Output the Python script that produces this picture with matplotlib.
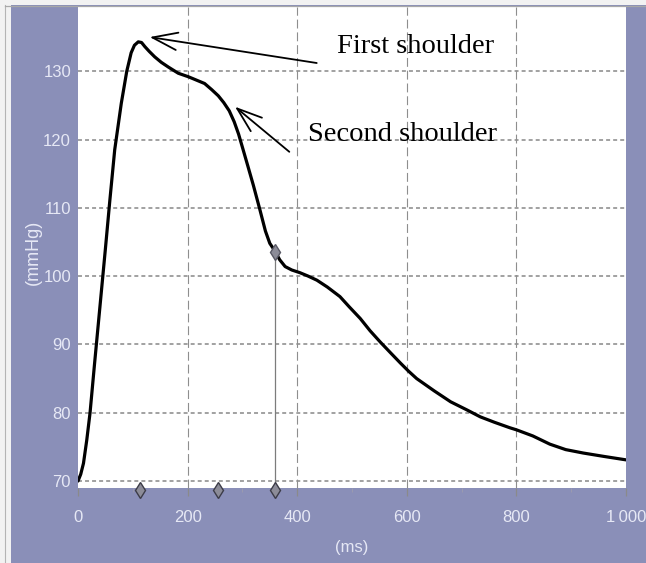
import matplotlib
matplotlib.use('Agg')
import matplotlib.pyplot as plt
from matplotlib.patches import Rectangle
from matplotlib.lines import Line2D
import matplotlib.transforms as mtransforms

# pressure pulse
t_ms = [0, 5, 10, 16, 22, 30, 40, 50, 58, 67, 79, 89, 97, 103, 110, 116,
        122, 130, 140, 152, 165, 183, 201, 216, 231, 244, 256, 266, 276,
        285, 293, 301, 310, 320, 332, 342, 350, 360, 368, 378, 390, 405,
        420, 436, 455, 478, 495, 515, 533, 551, 570, 588, 603, 618, 650,
        680, 710, 734, 760, 788, 800, 830, 861, 890, 922, 960, 1000]
p_mmhg = [70.0, 71.0, 72.6, 76.0, 80.0, 87.0, 95.5, 104.0, 111.0, 118.5,
          125.3, 130.0, 132.7, 133.8, 134.3, 134.2, 133.6, 132.9, 132.1,
          131.3, 130.6, 129.7, 129.2, 128.7, 128.2, 127.3, 126.4, 125.4,
          124.2, 122.6, 120.8, 118.6, 116.1, 113.3, 109.7, 106.6, 104.8,
          103.6, 102.4, 101.4, 100.9, 100.5, 100.0, 99.4, 98.4, 97.0, 95.5,
          93.8, 92.0, 90.4, 88.8, 87.3, 86.1, 85.0, 83.2, 81.6, 80.4, 79.4,
          78.6, 77.8, 77.5, 76.6, 75.4, 74.6, 74.1, 73.6, 73.1]

marker_ms = [113, 255, 360]
cursor_ms, cursor_p = 360, 103.6

x_ticks = [0, 200, 400, 600, 800, 1000]
x_labels = ['0', '200', '400', '600', '800', '1\u2009000']
y_ticks = [70, 80, 90, 100, 110, 120, 130]

bg = '#8a8fb8'
label_col = '#e6e8f5'
tick_font = ['Liberation Sans', 'DejaVu Sans']

fig = plt.figure(figsize=(6.46, 5.63), dpi=100, facecolor=bg)

# light window border on the left and top
fig.patches.append(Rectangle((0, 0), 11 / 646, 1, transform=fig.transFigure,
                             facecolor='#f2f2f2', edgecolor='none', zorder=0))
fig.patches.append(Rectangle((0, 1 - 5 / 563), 1, 5 / 563, transform=fig.transFigure,
                             facecolor='#f2f2f2', edgecolor='none', zorder=0))
fig.lines.append(Line2D([4.5 / 646, 4.5 / 646], [0, 1 - 5 / 563], transform=fig.transFigure,
                        color='#b4b4b4', lw=0.8))
fig.lines.append(Line2D([4.5 / 646, 1], [1 - 5.5 / 563, 1 - 5.5 / 563], transform=fig.transFigure,
                        color='#a8a8a8', lw=0.9))

ax = fig.add_axes([78 / 646, 1 - 488 / 563, 548 / 646, 481 / 563])
ax.set_facecolor('white')
for s in ax.spines.values():
    s.set_visible(False)

ax.set_xlim(0, 1000)
ax.set_ylim(68.98, 139.4)

# grid
for y in y_ticks:
    ax.axhline(y, color='#9a9a9a', lw=1.3, linestyle=(0, (2.2, 1.7)), zorder=1)
for x in x_ticks[1:-1]:
    ax.axvline(x, color='#8e8e8e', lw=0.8, linestyle=(0, (8, 3.5)), zorder=1)

ax.set_xticks(x_ticks)
ax.set_xticklabels(x_labels)
ax.set_xticks([100, 300, 500, 700, 900], minor=True)
ax.set_yticks(y_ticks)
ax.tick_params(axis='x', which='major', length=6, width=0.9, color='#8a8a8a',
               pad=10, labelsize=12, labelcolor=label_col)
ax.tick_params(axis='x', which='minor', length=3, width=0.8, color='#9a9ab0')
ax.tick_params(axis='y', length=0, pad=5, labelsize=12, labelcolor=label_col)
for lab in ax.get_xticklabels() + ax.get_yticklabels():
    lab.set_family(tick_font)

ax.set_xlabel('(ms)', fontsize=12, color=label_col, family=tick_font)
ax.xaxis.label.set_va('center')
ax.xaxis.set_label_coords(0.5, -0.123)
ax.set_ylabel('(mmHg)', fontsize=13, color=label_col, family=tick_font)
ax.yaxis.label.set_va('center')
ax.yaxis.set_label_coords(-0.082, 0.49)

# curve
ax.plot(t_ms, p_mmhg, color='black', lw=2.3, zorder=4,
        solid_capstyle='round', solid_joinstyle='round')

# cursor line and markers
ax.plot([cursor_ms, cursor_ms], [68.98, cursor_p], color='#7c7c7c', lw=0.9, zorder=3)
ax.plot([cursor_ms], [cursor_p], marker='d', ms=8, mfc='#8c8c98', mec='#5a5a66',
        mew=1, zorder=5, linestyle='none')
bottom = mtransforms.blended_transform_factory(ax.transData, ax.transAxes)
ax.plot(marker_ms, [-0.004] * len(marker_ms), transform=bottom, marker='d', ms=8,
        mfc='#8c8c98', mec='#3c3c48', mew=1, linestyle='none', clip_on=False, zorder=6)

# annotations
arrow = dict(arrowstyle='->,head_length=1.2,head_width=0.42', lw=1.3, color='black',
             shrinkA=0, shrinkB=0, mutation_scale=15)
ax.annotate('', xy=(130.8, 135.0), xytext=(435.6, 131.2), arrowprops=arrow, zorder=6)
ax.annotate('', xy=(286.5, 124.8), xytext=(385.6, 118.2), arrowprops=arrow, zorder=6)
ax.text(472, 132.6, 'First shoulder', family='Liberation Serif', fontsize=20.5,
        va='baseline', ha='left', zorder=7)
ax.text(419.7, 119.8, 'Second shoulder', family='Liberation Serif', fontsize=20.5,
        va='baseline', ha='left', zorder=7)

fig.savefig('out.png', dpi=100, facecolor=bg)
